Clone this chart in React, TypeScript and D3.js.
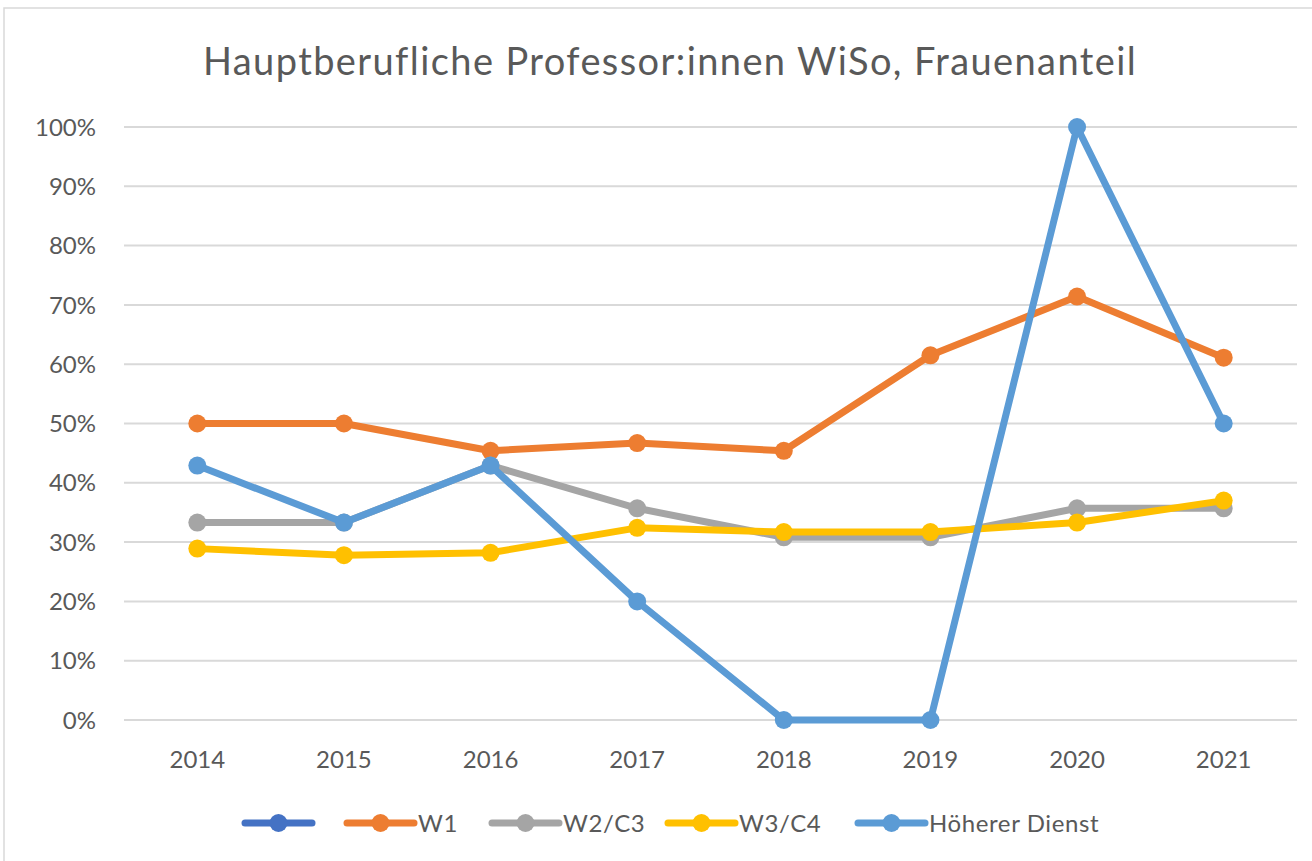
import React from 'react';
import * as d3 from 'd3';

const years = ['2014', '2015', '2016', '2017', '2018', '2019', '2020', '2021'];

const w1 = [0.5, 0.5, 0.454, 0.467, 0.454, 0.615, 0.714, 0.611];
const w2c3 = [0.333, 0.333, 0.429, 0.357, 0.308, 0.308, 0.357, 0.357];
const w3c4 = [0.289, 0.278, 0.282, 0.324, 0.317, 0.317, 0.333, 0.37];
const hoehererDienst = [0.429, 0.333, 0.429, 0.2, 0, 0, 1, 0.5];

const yTicks = [0, 0.1, 0.2, 0.3, 0.4, 0.5, 0.6, 0.7, 0.8, 0.9, 1];

const series = [
  { name: '', color: '#4472C4', values: [] as number[] },
  { name: 'W1', color: '#ED7D31', values: w1 },
  { name: 'W2/C3', color: '#A5A5A5', values: w2c3 },
  { name: 'W3/C4', color: '#FFC000', values: w3c4 },
  { name: 'Höherer Dienst', color: '#5B9BD5', values: hoehererDienst },
];

const legendX = [245, 347, 492, 668, 858];

const App: React.FC = () => {
  const width = 1312;
  const height = 861;
  const plot = { left: 124, right: 1297, top: 127, bottom: 720 };
  const font = 'Lato, "Open Sans", sans-serif';

  const x = d3.scalePoint<string>()
    .domain(years)
    .range([plot.left, plot.right])
    .padding(0.5);

  const y = d3.scaleLinear()
    .domain([0, 1])
    .range([plot.bottom, plot.top]);

  const line = d3.line<number>()
    .x((_, i) => x(years[i])!)
    .y(d => y(d));

  return (
    <svg width={width} height={height}
      style={{ position: 'absolute', left: 0, top: 0, background: '#fff' }}>
      <rect x={4} y={8} width={width + 10} height={height + 10} fill="#fff" stroke="#d9d9d9" strokeWidth={1.5} />

      <text x={670} y={75} textAnchor="middle" fontFamily={font} fontSize={38} letterSpacing={1.4} fill="#595959">
        Hauptberufliche Professor:innen WiSo, Frauenanteil
      </text>

      {/* grid + y axis labels */}
      {yTicks.map(t => (
        <g key={t}>
          <line x1={plot.left} x2={plot.right} y1={y(t)} y2={y(t)} stroke="#d9d9d9" strokeWidth={2} />
          <text x={96} y={y(t)} dy="0.36em" textAnchor="end" fontFamily={font} fontSize={24} fill="#595959">
            {d3.format('.0%')(t)}
          </text>
        </g>
      ))}

      {/* x axis labels */}
      {years.map(yr => (
        <text key={yr} x={x(yr)} y={768} textAnchor="middle" fontFamily={font} fontSize={24} fill="#595959">
          {yr}
        </text>
      ))}

      {/* series */}
      {series.filter(s => s.values.length).map(s => (
        <g key={s.name}>
          <path d={line(s.values) || ''} fill="none" stroke={s.color} strokeWidth={7} strokeLinejoin="round" />
          {s.values.map((v, i) => (
            <circle key={i} cx={x(years[i])} cy={y(v)} r={9} fill={s.color} />
          ))}
        </g>
      ))}

      {/* legend */}
      {series.map((s, i) => (
        <g key={i} transform={`translate(${legendX[i]},823)`}>
          <line x1={0} x2={67} y1={0} y2={0} stroke={s.color} strokeWidth={7} strokeLinecap="round" />
          <circle cx={33.5} cy={0} r={9} fill={s.color} />
          {s.name && (
            <text x={71} y={0} dy="0.36em" fontFamily={font} fontSize={24} letterSpacing={0.6} fill="#595959">{s.name}</text>
          )}
        </g>
      ))}
    </svg>
  );
};

export default App;
